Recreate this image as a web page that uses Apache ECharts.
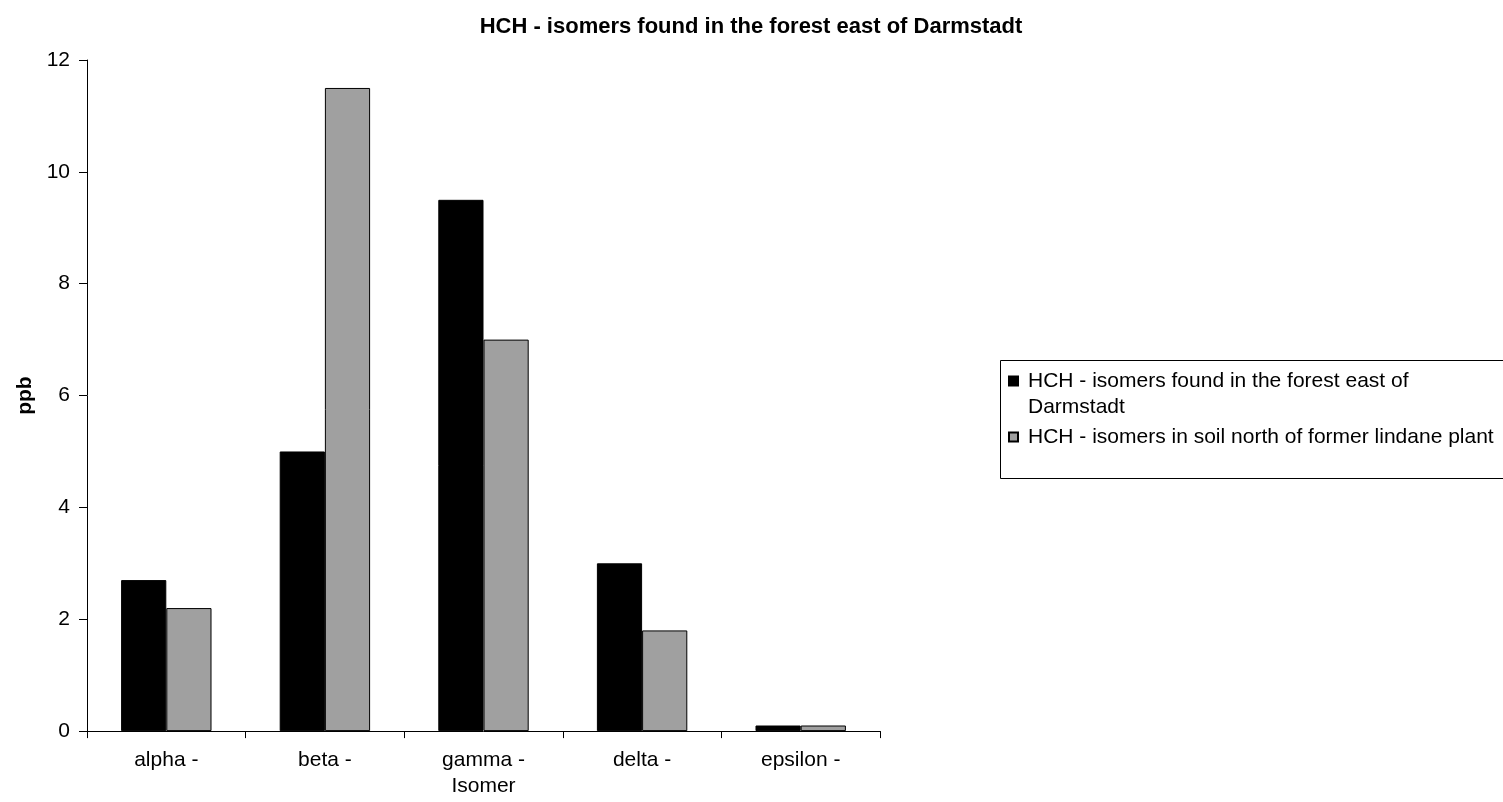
<!DOCTYPE html>
<html>
<head>
<meta charset="utf-8">
<script src="https://cdn.jsdelivr.net/npm/echarts@6/dist/echarts.min.js"></script>
<style>
  html, body { margin: 0; padding: 0; background: #fff; }
  #chart { width: 1503px; height: 802px; }
</style>
</head>
<body>
<div id="chart"></div>
<script>
// Isomer categories along the x axis
const categories = ['alpha -', 'beta -', 'gamma -', 'delta -', 'epsilon -'];
// Concentrations in ppb
const forestEast = [2.7, 5.0, 9.5, 3.0, 0.1];
const soilNorth = [2.2, 11.5, 7.0, 1.8, 0.1];
const seriesNames = [
  'HCH - isomers found in the forest east of Darmstadt',
  'HCH - isomers in soil north of former lindane plant'
];
const yTicks = [0, 2, 4, 6, 8, 10, 12];

const FONT = '"Liberation Sans", Arial, sans-serif';
const chart = echarts.init(document.getElementById('chart'));

chart.setOption({
  animation: false,
  backgroundColor: '#ffffff',
  textStyle: { fontFamily: FONT, color: '#000' },
  title: {
    text: 'HCH - isomers found in the forest east of Darmstadt',
    left: 746, top: 11, textAlign: 'center',
    textStyle: { fontFamily: FONT, fontSize: 22, fontWeight: 'bold', color: '#000' }
  },
  // frame around the legend entries
  graphic: [{
    type: 'rect',
    shape: { x: 1000.5, y: 360.5, width: 520, height: 118 },
    style: { fill: 'none', stroke: '#000', lineWidth: 1 },
    silent: true
  }],
  legend: {
    orient: 'vertical',
    left: 1008, top: 342,
    padding: 0,
    itemWidth: 9, itemHeight: 9, itemGap: 4,
    icon: 'rect',
    textStyle: { fontFamily: FONT, fontSize: 21, color: '#000', lineHeight: 26, padding: [0, 0, 0, 5] },
    formatter: function (name) {
      // leading blank line keeps the marker level with the first text line
      return name === seriesNames[0]
        ? ' \nHCH - isomers found in the forest east of\nDarmstadt'
        : name;
    },
    data: seriesNames
  },
  grid: { left: 87, top: 60, width: 793, height: 672 },
  xAxis: {
    type: 'category',
    data: categories,
    name: 'Isomer',
    nameLocation: 'middle',
    nameGap: 44,
    nameTextStyle: { fontFamily: FONT, fontSize: 21, color: '#000' },
    axisLine: { lineStyle: { color: '#000', width: 1 } },
    axisTick: { show: true, alignWithLabel: false, length: 7, lineStyle: { color: '#000' } },
    axisLabel: { fontFamily: FONT, fontSize: 21, color: '#000', margin: 19 },
    splitLine: { show: false }
  },
  yAxis: {
    type: 'value',
    min: 0, max: 12, interval: 2,
    name: 'ppb',
    nameLocation: 'middle',
    nameGap: 51,
    nameRotate: 90,
    nameTextStyle: { fontFamily: FONT, fontSize: 21, fontWeight: 'bold', color: '#000' },
    axisLine: { show: true, lineStyle: { color: '#000', width: 1 } },
    axisTick: { show: true, inside: false, length: 8, lineStyle: { color: '#000' } },
    axisLabel: {
      fontFamily: FONT, fontSize: 21, color: '#000', margin: 17,
      formatter: function (v) { return yTicks.indexOf(v) >= 0 ? String(v) : ''; }
    },
    splitLine: { show: false }
  },
  series: [
    {
      name: seriesNames[0],
      type: 'bar',
      data: forestEast,
      barGap: '0%',
      barCategoryGap: '43%',
      itemStyle: { color: '#000000', borderColor: '#000', borderWidth: 1 }
    },
    {
      name: seriesNames[1],
      type: 'bar',
      data: soilNorth,
      itemStyle: { color: '#a0a0a0', borderColor: '#000', borderWidth: 1 }
    }
  ]
});
</script>
</body>
</html>
